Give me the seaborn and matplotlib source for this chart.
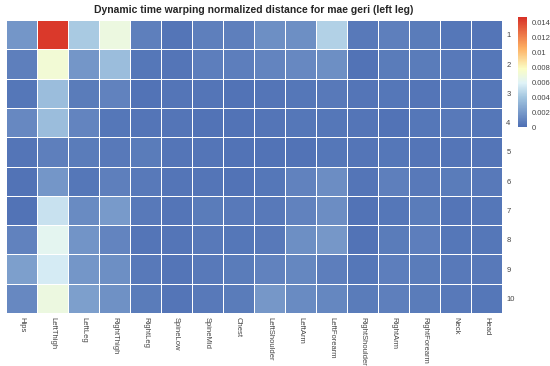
import numpy as np
import pandas as pd
import matplotlib
matplotlib.use("Agg")
import matplotlib.pyplot as plt
import seaborn as sns
from matplotlib.colors import LinearSegmentedColormap

joints = ["Hips", "LeftThigh", "LeftLeg", "RightThigh", "RightLeg", "SpineLow",
          "SpineMid", "Chest", "LeftShoulder", "LeftArm", "LeftForearm",
          "RightShoulder", "RightArm", "RightForearm", "Neck", "Head"]
trials = [str(i) for i in range(1, 11)]

# normalized DTW distance, one row per trial
dist = [
    [0.0018, 0.0145, 0.0042, 0.0068, 0.0008, 0.0003, 0.0008, 0.0008, 0.0015, 0.0015, 0.0045, 0.0005, 0.0008, 0.0006, 0.0004, 0.0003],
    [0.0008, 0.0072, 0.0018, 0.0036, 0.0004, 0.0003, 0.0007, 0.0007, 0.0010, 0.0012, 0.0015, 0.0002, 0.0006, 0.0006, 0.0005, 0.0004],
    [0.0004, 0.0036, 0.0006, 0.0009, 0.0002, 0.0003, 0.0003, 0.0002, 0.0003, 0.0004, 0.0005, 0.0003, 0.0004, 0.0003, 0.0004, 0.0004],
    [0.0012, 0.0036, 0.0010, 0.0004, 0.0003, 0.0003, 0.0002, 0.0002, 0.0003, 0.0004, 0.0004, 0.0003, 0.0002, 0.0004, 0.0005, 0.0004],
    [0.0003, 0.0008, 0.0006, 0.0005, 0.0006, 0.0003, 0.0003, 0.0002, 0.0002, 0.0002, 0.0004, 0.0003, 0.0004, 0.0003, 0.0003, 0.0003],
    [0.0002, 0.0018, 0.0004, 0.0008, 0.0005, 0.0003, 0.0003, 0.0002, 0.0004, 0.0009, 0.0014, 0.0003, 0.0008, 0.0005, 0.0006, 0.0005],
    [0.0002, 0.0052, 0.0013, 0.0020, 0.0005, 0.0003, 0.0006, 0.0005, 0.0005, 0.0009, 0.0014, 0.0002, 0.0004, 0.0006, 0.0003, 0.0004],
    [0.0009, 0.0062, 0.0017, 0.0010, 0.0003, 0.0003, 0.0005, 0.0004, 0.0005, 0.0015, 0.0019, 0.0002, 0.0006, 0.0007, 0.0004, 0.0004],
    [0.0022, 0.0056, 0.0018, 0.0015, 0.0005, 0.0003, 0.0005, 0.0006, 0.0009, 0.0011, 0.0007, 0.0004, 0.0007, 0.0006, 0.0005, 0.0005],
    [0.0012, 0.0068, 0.0022, 0.0016, 0.0006, 0.0003, 0.0005, 0.0006, 0.0019, 0.0013, 0.0011, 0.0006, 0.0008, 0.0006, 0.0005, 0.0004],
]
cbar_ticks = [0, 0.002, 0.004, 0.006, 0.008, 0.01, 0.012, 0.014]

df = pd.DataFrame(dist, index=trials, columns=joints)

cmap = LinearSegmentedColormap.from_list("dtw", [
    (0.0, "#4e6fb4"), (0.27, "#a3c6e0"), (0.4, "#e0f3f8"),
    (0.53, "#fbfdc4"), (0.72, "#fdae61"), (1.0, "#d73027")])

sns.set_style("white")
plt.rcParams['font.family'] = ['Liberation Sans', 'DejaVu Sans']

fig = plt.figure(figsize=(5.5, 3.66), dpi=100)
ax = fig.add_axes([0.011, 0.145, 0.902, 0.8])
cax = fig.add_axes([0.942, 0.653, 0.016, 0.301])

sns.heatmap(df, ax=ax, cbar_ax=cax, cmap=cmap, vmin=0, vmax=0.0148,
            linewidths=0.6, linecolor="white",
            cbar_kws={"ticks": cbar_ticks})

ax.set_title("Dynamic time warping normalized distance for mae geri (left leg)",
             fontsize=7.5, fontweight="bold", pad=5)
ax.yaxis.tick_right()
ax.tick_params(axis="both", length=0, labelsize=5.5, labelcolor="#444444", pad=3)
ax.set_yticklabels(trials, rotation=0)
ax.set_xticklabels(joints, rotation=-90)
ax.set_xlabel("")
ax.set_ylabel("")

cax.tick_params(length=0, labelsize=5.5, labelcolor="#444444")
cax.set_yticklabels(["0", "0.002", "0.004", "0.006", "0.008", "0.01", "0.012", "0.014"])
for s in cax.spines.values():
    s.set_visible(False)

fig.savefig("out.png", dpi=100)
